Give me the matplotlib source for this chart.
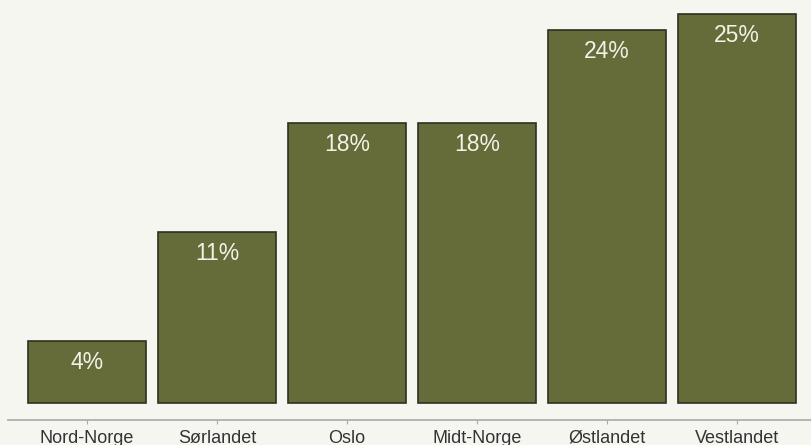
import matplotlib.pyplot as plt

regions = ['Nord-Norge', 'Sørlandet', 'Oslo', 'Midt-Norge', 'Østlandet', 'Vestlandet']
shares = [4, 11, 18, 18, 24, 25]
labels = ['4%', '11%', '18%', '18%', '24%', '25%']

bg = '#f6f6f1'
plt.rcParams['font.family'] = ['Liberation Sans', 'DejaVu Sans']

fig = plt.figure(figsize=(8.11, 4.45), dpi=100, facecolor=bg)
ax = fig.add_axes([8 / 811, 25 / 445, 803 / 811, 420 / 445], facecolor=bg)

x = list(range(len(regions)))
bars = ax.bar(x, shares, width=0.908, color='#666b3a', edgecolor='#2e3020', linewidth=1.2)

for b, lab in zip(bars, labels):
    ax.annotate(lab, (b.get_x() + b.get_width() / 2, b.get_height()),
                xytext=(0, -7), textcoords='offset points',
                ha='center', va='top', color='#f2f2e6', fontsize=16.5)

ax.set_xlim(-0.608, 5.57)
ax.set_ylim(-1.09, 25.92)
ax.set_xticks(x)
ax.set_xticklabels(regions, fontsize=13, color='#333333')
ax.set_yticks([])
for s in ['top', 'right', 'left']:
    ax.spines[s].set_visible(False)
ax.spines['bottom'].set_color('#a8a8a8')
ax.spines['bottom'].set_linewidth(1.2)
ax.tick_params(axis='x', length=3, color='#a8a8a8', pad=4)

fig.savefig('out.png', dpi=100, facecolor=bg)
